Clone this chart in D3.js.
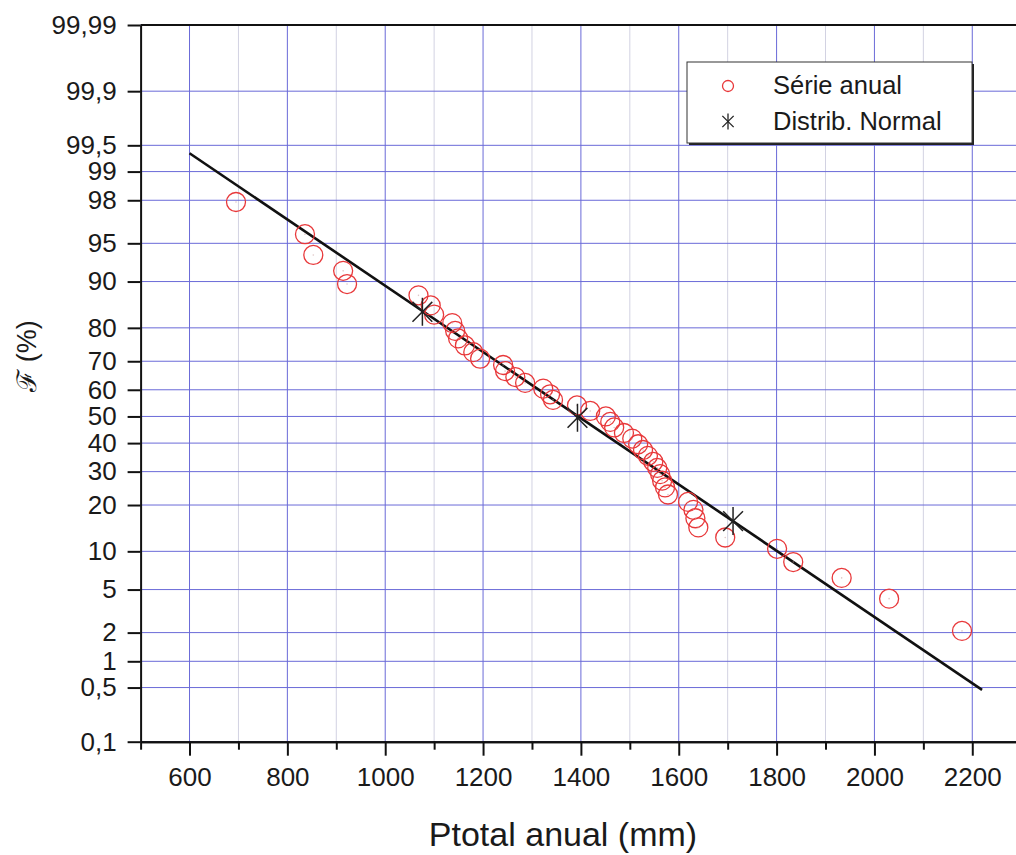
<!DOCTYPE html>
<html>
<head>
<meta charset="utf-8">
<script src="https://cdn.jsdelivr.net/npm/d3@7"></script>
<style>
  html, body { margin: 0; padding: 0; background: #fff; }
  svg { display: block; font-family: "Liberation Sans", Arial, sans-serif; }
</style>
</head>
<body>
<script>
// ---- data ----
const xTickValues = [600, 800, 1000, 1200, 1400, 1600, 1800, 2000, 2200];
const xMinorValues = [500, 700, 900, 1100, 1300, 1500, 1700, 1900, 2100, 2300];
const yTickValues = [0.1, 0.5, 1, 2, 5, 10, 20, 30, 40, 50, 60, 70, 80, 90, 95, 98, 99, 99.5, 99.9, 99.99];
const yTickLabels = ["0,1", "0,5", "1", "2", "5", "10", "20", "30", "40", "50", "60", "70", "80", "90", "95", "98", "99", "99,5", "99,9", "99,99"];

// annual series: total precipitation (mm) and frequency F (%)
const serieP = [2179, 2030, 1933, 1834, 1801, 1695, 1640, 1634, 1630, 1619,
                1578, 1572, 1566, 1562, 1556, 1548, 1537, 1527, 1517, 1505,
                1488, 1468, 1460, 1451, 1419, 1392, 1343, 1337, 1323, 1286,
                1266, 1245, 1241, 1194, 1180, 1163, 1149, 1143, 1137, 1100,
                1093, 1068, 922, 914, 853, 836, 695];
const serieF = [2.08, 4.17, 6.25, 8.33, 10.42, 12.50, 14.58, 16.67, 18.75, 20.83,
                22.92, 25.00, 27.08, 29.17, 31.25, 33.33, 35.42, 37.50, 39.58, 41.67,
                43.75, 45.83, 47.92, 50.00, 52.08, 54.17, 56.25, 58.33, 60.42, 62.50,
                64.58, 66.67, 68.75, 70.83, 72.92, 75.00, 77.08, 79.17, 81.25, 83.33,
                85.42, 87.50, 89.58, 91.67, 93.75, 95.83, 97.92];

// normal distribution reference points
const normalP = [1076, 1393, 1711];
const normalF = [84.0, 49.5, 16.0];

// fitted normal line (end points)
const fitP = [600, 2220];
const fitF = [99.38, 0.47];

// ---- inverse normal CDF (Acklam) for the probability axis ----
function probit(pct) {
  const p = pct / 100;
  const a = [-3.969683028665376e+01, 2.209460984245205e+02, -2.759285104469687e+02, 1.383577518672690e+02, -3.066479806614716e+01, 2.506628277459239e+00];
  const b = [-5.447609879822406e+01, 1.615858368580409e+02, -1.556989798598866e+02, 6.680131188771972e+01, -1.328068155288572e+01];
  const c = [-7.784894002430293e-03, -3.223964580411365e-01, -2.400758277161838e+00, -2.549732539343734e+00, 4.374664141464968e+00, 2.938163982698783e+00];
  const d = [7.784695709041462e-03, 3.224671290700398e-01, 2.445134137142996e+00, 3.754408361507363e+00];
  const plow = 0.02425, phigh = 1 - plow;
  let q, r;
  if (p < plow) {
    q = Math.sqrt(-2 * Math.log(p));
    return (((((c[0]*q+c[1])*q+c[2])*q+c[3])*q+c[4])*q+c[5]) / ((((d[0]*q+d[1])*q+d[2])*q+d[3])*q+1);
  } else if (p <= phigh) {
    q = p - 0.5; r = q * q;
    return (((((a[0]*r+a[1])*r+a[2])*r+a[3])*r+a[4])*r+a[5])*q / (((((b[0]*r+b[1])*r+b[2])*r+b[3])*r+b[4])*r+1);
  } else {
    q = Math.sqrt(-2 * Math.log(1 - p));
    return -(((((c[0]*q+c[1])*q+c[2])*q+c[3])*q+c[4])*q+c[5]) / ((((d[0]*q+d[1])*q+d[2])*q+d[3])*q+1);
  }
}

// ---- layout ----
const W = 1016, H = 855;
const plotLeft = 140.6, plotRight = 1021.2, plotTop = 25, plotBottom = 741.7;

const svg = d3.select("body").append("svg").attr("width", W).attr("height", H);

const x = d3.scaleLinear().domain([500, 2300]).range([plotLeft, plotRight]);
const yz = d3.scaleLinear().domain([probit(0.1), probit(99.99)]).range([plotBottom, plotTop]);
const y = F => yz(probit(F));

// ---- grid ----
const grid = svg.append("g");
grid.selectAll("line.vminor").data(xMinorValues.slice(1)).join("line")
  .attr("x1", d => x(d)).attr("x2", d => x(d))
  .attr("y1", plotTop).attr("y2", plotBottom)
  .attr("stroke", "#d2d2e2").attr("stroke-width", 1);
grid.selectAll("line.vmajor").data(xTickValues).join("line")
  .attr("x1", d => x(d)).attr("x2", d => x(d))
  .attr("y1", plotTop).attr("y2", plotBottom)
  .attr("stroke", "#6a6ad8").attr("stroke-width", 1);
grid.selectAll("line.h").data(yTickValues).join("line")
  .attr("x1", plotLeft).attr("x2", plotRight)
  .attr("y1", d => y(d)).attr("y2", d => y(d))
  .attr("stroke", "#6a6ad8").attr("stroke-width", 1);

// ---- fitted line ----
const line = d3.line().x(d => x(d[0])).y(d => y(d[1]));
svg.append("path")
  .datum(fitP.map((p, i) => [p, fitF[i]]))
  .attr("d", line)
  .attr("fill", "none").attr("stroke", "#111").attr("stroke-width", 2.6);

// ---- annual series ----
const pts = serieP.map((p, i) => ({ p, f: serieF[i] }));
svg.append("g").selectAll("circle").data(pts).join("circle")
  .attr("cx", d => x(d.p)).attr("cy", d => y(d.f)).attr("r", 9.5)
  .attr("fill", "none").attr("stroke", "#e8383a").attr("stroke-width", 1.3);
svg.append("g").selectAll("circle").data(pts).join("circle")
  .attr("cx", d => x(d.p)).attr("cy", d => y(d.f)).attr("r", 0.8)
  .attr("fill", "#c9a0a0").attr("opacity", 0.6);

// asterisk marker: vertical stroke crossed by an X
function asterisk(g, cx, cy, s, w) {
  const k = s * Math.SQRT1_2;
  const segs = [[0, -s, 0, s], [-k, -k, k, k], [-k, k, k, -k]];
  g.append("g").selectAll("line").data(segs).join("line")
    .attr("x1", d => cx + d[0]).attr("y1", d => cy + d[1])
    .attr("x2", d => cx + d[2]).attr("y2", d => cy + d[3])
    .attr("stroke", "#222").attr("stroke-width", w);
}
const nG = svg.append("g");
normalP.forEach((p, i) => asterisk(nG, x(p), y(normalF[i]), 14, 1.5));

// ---- axes ----
const axisStyle = g => {
  g.selectAll("path.domain").attr("stroke", "#111").attr("stroke-width", 2);
  g.selectAll(".tick line").attr("stroke", "#111").attr("stroke-width", 2);
  g.selectAll(".tick text").attr("fill", "#1a1a1a").style("font-size", "26px")
    .style("font-family", "'Liberation Sans', Arial, sans-serif");
};

svg.append("g").attr("transform", `translate(0,${plotBottom})`)
  .call(d3.axisBottom(x).tickValues(xMinorValues).tickSize(8).tickSizeOuter(0).tickFormat(""))
  .call(axisStyle);
svg.append("g").attr("transform", `translate(0,${plotBottom})`)
  .call(d3.axisBottom(x).tickValues(xTickValues).tickSize(14).tickSizeOuter(0).tickPadding(12).tickFormat(d => String(d)))
  .call(axisStyle);

svg.append("g").attr("transform", `translate(${plotLeft},0)`)
  .call(d3.axisLeft(yz).tickValues(yTickValues.map(probit)).tickSize(13).tickSizeOuter(0).tickPadding(11)
    .tickFormat((d, i) => yTickLabels[i]))
  .call(axisStyle);

// top frame line
svg.append("line").attr("x1", plotLeft).attr("x2", plotRight).attr("y1", plotTop).attr("y2", plotTop)
  .attr("stroke", "#111").attr("stroke-width", 2);

// ---- axis titles ----
svg.append("text").attr("x", 563).attr("y", 846).attr("text-anchor", "middle")
  .style("font-size", "34px").attr("fill", "#1a1a1a").text("Ptotal anual (mm)");
svg.append("text").attr("transform", "translate(36,356) rotate(-90)").attr("text-anchor", "middle")
  .style("font-size", "27px").attr("fill", "#1a1a1a").text("ℱ (%)");

// ---- legend ----
const lg = svg.append("g");
lg.append("rect").attr("x", 689).attr("y", 64).attr("width", 285).attr("height", 81).attr("fill", "#222");
lg.append("rect").attr("x", 687).attr("y", 62).attr("width", 285).attr("height", 81)
  .attr("fill", "#fff").attr("stroke", "#333").attr("stroke-width", 1);
lg.append("circle").attr("cx", 728).attr("cy", 86).attr("r", 5.5)
  .attr("fill", "none").attr("stroke", "#e8383a").attr("stroke-width", 1.3);
asterisk(lg, 728, 121.5, 8, 1.3);
lg.append("text").attr("x", 773).attr("y", 94).style("font-size", "25.5px").attr("fill", "#1a1a1a").text("Série anual");
lg.append("text").attr("x", 773).attr("y", 130).style("font-size", "25.5px").attr("fill", "#1a1a1a").text("Distrib. Normal");
</script>
</body>
</html>
